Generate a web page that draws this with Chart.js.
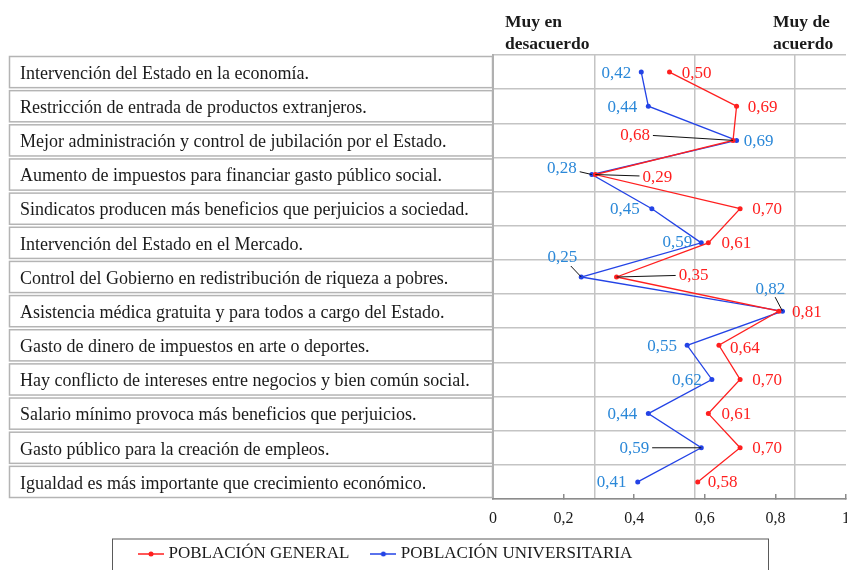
<!DOCTYPE html>
<html>
<head>
<meta charset="utf-8">
<script src="https://cdn.jsdelivr.net/npm/chart.js@4.4.0/dist/chart.umd.min.js"></script>
<style>
  html,body{margin:0;padding:0;background:#fff;}
  #wrap{width:847px;height:570px;overflow:hidden;}
</style>
</head>
<body>
<div id="wrap"><canvas id="c" width="847" height="570"></canvas></div>
<script>
/* ---- data ---- */
const categories = [
  'Intervención del Estado en la economía.',
  'Restricción de entrada de productos extranjeros.',
  'Mejor administración y control de jubilación por el Estado.',
  'Aumento de impuestos para financiar gasto público social.',
  'Sindicatos producen más beneficios que perjuicios a sociedad.',
  'Intervención del Estado en el Mercado.',
  'Control del Gobierno en redistribución de riqueza a pobres.',
  'Asistencia médica gratuita y para todos a cargo del Estado.',
  'Gasto de dinero de impuestos en arte o deportes.',
  'Hay conflicto de intereses entre negocios y bien común social.',
  'Salario mínimo provoca más beneficios que perjuicios.',
  'Gasto público para la creación de empleos.',
  'Igualdad es más importante que crecimiento económico.'
];
const general       = [0.50,0.69,0.68,0.29,0.70,0.61,0.35,0.81,0.64,0.70,0.61,0.70,0.58];
const universitaria = [0.42,0.44,0.69,0.28,0.45,0.59,0.25,0.82,0.55,0.62,0.44,0.59,0.41];
const xTicks = [0,0.2,0.4,0.6,0.8,1];
const seriesNames = ['POBLACIÓN GENERAL','POBLACIÓN UNIVERSITARIA'];

/* ---- label placement (px offsets from point, leader flag) ---- */
const genOff = [[27,0],[26,0],[-98,-6,1],[62,2,1],[27,0],[28,0],[77,-2,1],[28,0],[26,2],[27,0],[28,0],[27,0],[25,0]];
const uniOff = [[-25,0],[-26,0],[22,0],[-30,-7,1],[-27,0],[-24,-1],[-19,-20,1],[-12,-23,1],[-25,0],[-25,0],[-26,0],[-67,0,1],[-26,0]];

const SERIF = '"Liberation Serif","DejaVu Serif",serif';
const RED = '#ff1f1f', BLUE = '#2343e6', BLUE_TXT = '#2b88d8', INK = '#1a1a1a';
const GRID = '#c4c4c4';
// column borders of the sheet behind the plot (fraction of axis)
const COLS = [0.289,0.5722,0.8555];

function marker(color){
  const c=document.createElement('canvas');c.width=26;c.height=8;
  const g=c.getContext('2d');
  g.strokeStyle=color;g.lineWidth=1.5;g.beginPath();g.moveTo(0,4);g.lineTo(26,4);g.stroke();
  g.fillStyle=color;g.beginPath();g.arc(13,4,2.5,0,Math.PI*2);g.fill();
  return c;
}
const markers=[marker(RED),marker(BLUE)];

const fmt = v => v.toFixed(2).replace('.',',');

const decor = {
  id:'decor',
  afterLayout(chart){ const lg=chart.legend; lg.left=117; lg.top-=8.5; },
  beforeDraw(chart){
    const {ctx,chartArea:a}=chart, ys=chart.scales.y;
    ctx.save();
    ctx.fillStyle='#fff';ctx.fillRect(0,0,chart.width,chart.height);
    // label column boxes
    const h=(a.bottom-a.top)/categories.length;
    ctx.strokeStyle='#b4b4b4';ctx.lineWidth=1.5;
    categories.forEach((_,i)=>{
      const t=a.top+i*h;
      ctx.strokeRect(ys.left-10.5,t+1.5,a.left-ys.left+10,h-3);
    });
    // headings
    ctx.fillStyle=INK;ctx.font='bold 17.5px '+SERIF;ctx.textBaseline='alphabetic';ctx.textAlign='left';
    ctx.fillText('Muy en',a.left+12,27);
    ctx.fillText('desacuerdo',a.left+12,49);
    ctx.fillText('Muy de',a.left+280,27);
    ctx.fillText('acuerdo',a.left+280,49);
    ctx.restore();
  },
  afterDraw(chart){
    const {ctx}=chart, lg=chart.legend;
    ctx.save();
    ctx.strokeStyle='#5a5a5a';ctx.lineWidth=1;
    ctx.strokeRect(lg.left-4.5,lg.top+18.5,656,60);
    ctx.restore();
  }
};

const valueLabels = {
  id:'valueLabels',
  afterDatasetsDraw(chart){
    const {ctx}=chart;
    const offs=[genOff,uniOff], cols=[RED,BLUE_TXT];
    ctx.save();
    ctx.font='17px '+SERIF;ctx.textAlign='center';ctx.textBaseline='middle';
    chart.data.datasets.forEach((ds,di)=>{
      chart.getDatasetMeta(di).data.forEach((pt,i)=>{
        const [dx,dy,lead]=offs[di][i];
        const tx=pt.x+dx, ty=pt.y+dy, txt=fmt(ds.data[i]);
        if(lead){
          const hw=ctx.measureText(txt).width/2+3, hh=9;
          const vx=pt.x-tx, vy=pt.y-ty;
          const t=Math.min(Math.abs(vx)>0?hw/Math.abs(vx):9e9, Math.abs(vy)>0?hh/Math.abs(vy):9e9);
          ctx.strokeStyle='#111';ctx.lineWidth=1;
          ctx.beginPath();ctx.moveTo(tx+vx*t,ty+vy*t);ctx.lineTo(pt.x,pt.y);ctx.stroke();
        }
        ctx.fillStyle=cols[di];
        ctx.fillText(txt,tx,ty+1);
      });
    });
    ctx.restore();
  }
};

new Chart(document.getElementById('c'),{
  type:'line',
  data:{
    labels:categories,
    datasets:[
      {label:seriesNames[0],data:general,borderColor:RED,backgroundColor:RED,borderWidth:1.3,
       pointRadius:2.5,pointBorderWidth:0,pointBackgroundColor:RED,tension:0},
      {label:seriesNames[1],data:universitaria,borderColor:BLUE,backgroundColor:BLUE,borderWidth:1.3,
       pointRadius:2.5,pointBorderWidth:0,pointBackgroundColor:BLUE,tension:0}
    ]
  },
  options:{
    indexAxis:'y',
    responsive:false,
    animation:false,
    devicePixelRatio:1,
    layout:{autoPadding:false,padding:{left:20,right:1,top:55,bottom:-11}},
    plugins:{
      tooltip:{enabled:false},
      legend:{
        position:'bottom',align:'start',
        labels:{
          usePointStyle:true,pointStyleWidth:18,padding:25,color:INK,
          font:{family:SERIF,size:17},
          generateLabels:ch=>ch.data.datasets.map((d,i)=>({
            text:d.label,pointStyle:markers[i],datasetIndex:i,hidden:false,
            fillStyle:d.borderColor,strokeStyle:d.borderColor,lineWidth:0,fontColor:INK
          }))
        }
      }
    },
    scales:{
      y:{
        type:'category',position:'left',offset:true,
        ticks:{crossAlign:'far',autoSkip:false,padding:0,labelOffset:2,color:INK,font:{family:SERIF,size:18}},
        grid:{offset:true,color:GRID,lineWidth:1.5,drawTicks:false},
        border:{color:'#b0b0b0',width:2},
        afterFit:s=>{s.width=473;}
      },
      x:{
        type:'linear',position:'bottom',min:0,max:1,
        afterBuildTicks:s=>{s.ticks=xTicks.map(v=>({value:v}));},
        ticks:{padding:15,autoSkip:false,maxRotation:0,color:INK,font:{family:SERIF,size:16},
          callback:v=>String(v).replace('.',',')},
        grid:{drawOnChartArea:false,drawTicks:true,tickLength:-5,tickColor:'#8c8c8c',lineWidth:1.5},
        border:{color:'#8c8c8c',width:1.5},
        afterFit:s=>{s.height=30;s.paddingLeft=0;s.paddingRight=0;}
      },
      xg:{
        type:'linear',axis:'x',position:'top',min:0,max:1,
        afterBuildTicks:s=>{s.ticks=COLS.map(v=>({value:v}));},
        ticks:{display:false},
        grid:{color:GRID,lineWidth:1.5,drawTicks:false},
        border:{display:false},
        afterFit:s=>{s.height=0;}
      }
    }
  },
  plugins:[decor,valueLabels]
});
</script>
</body>
</html>
